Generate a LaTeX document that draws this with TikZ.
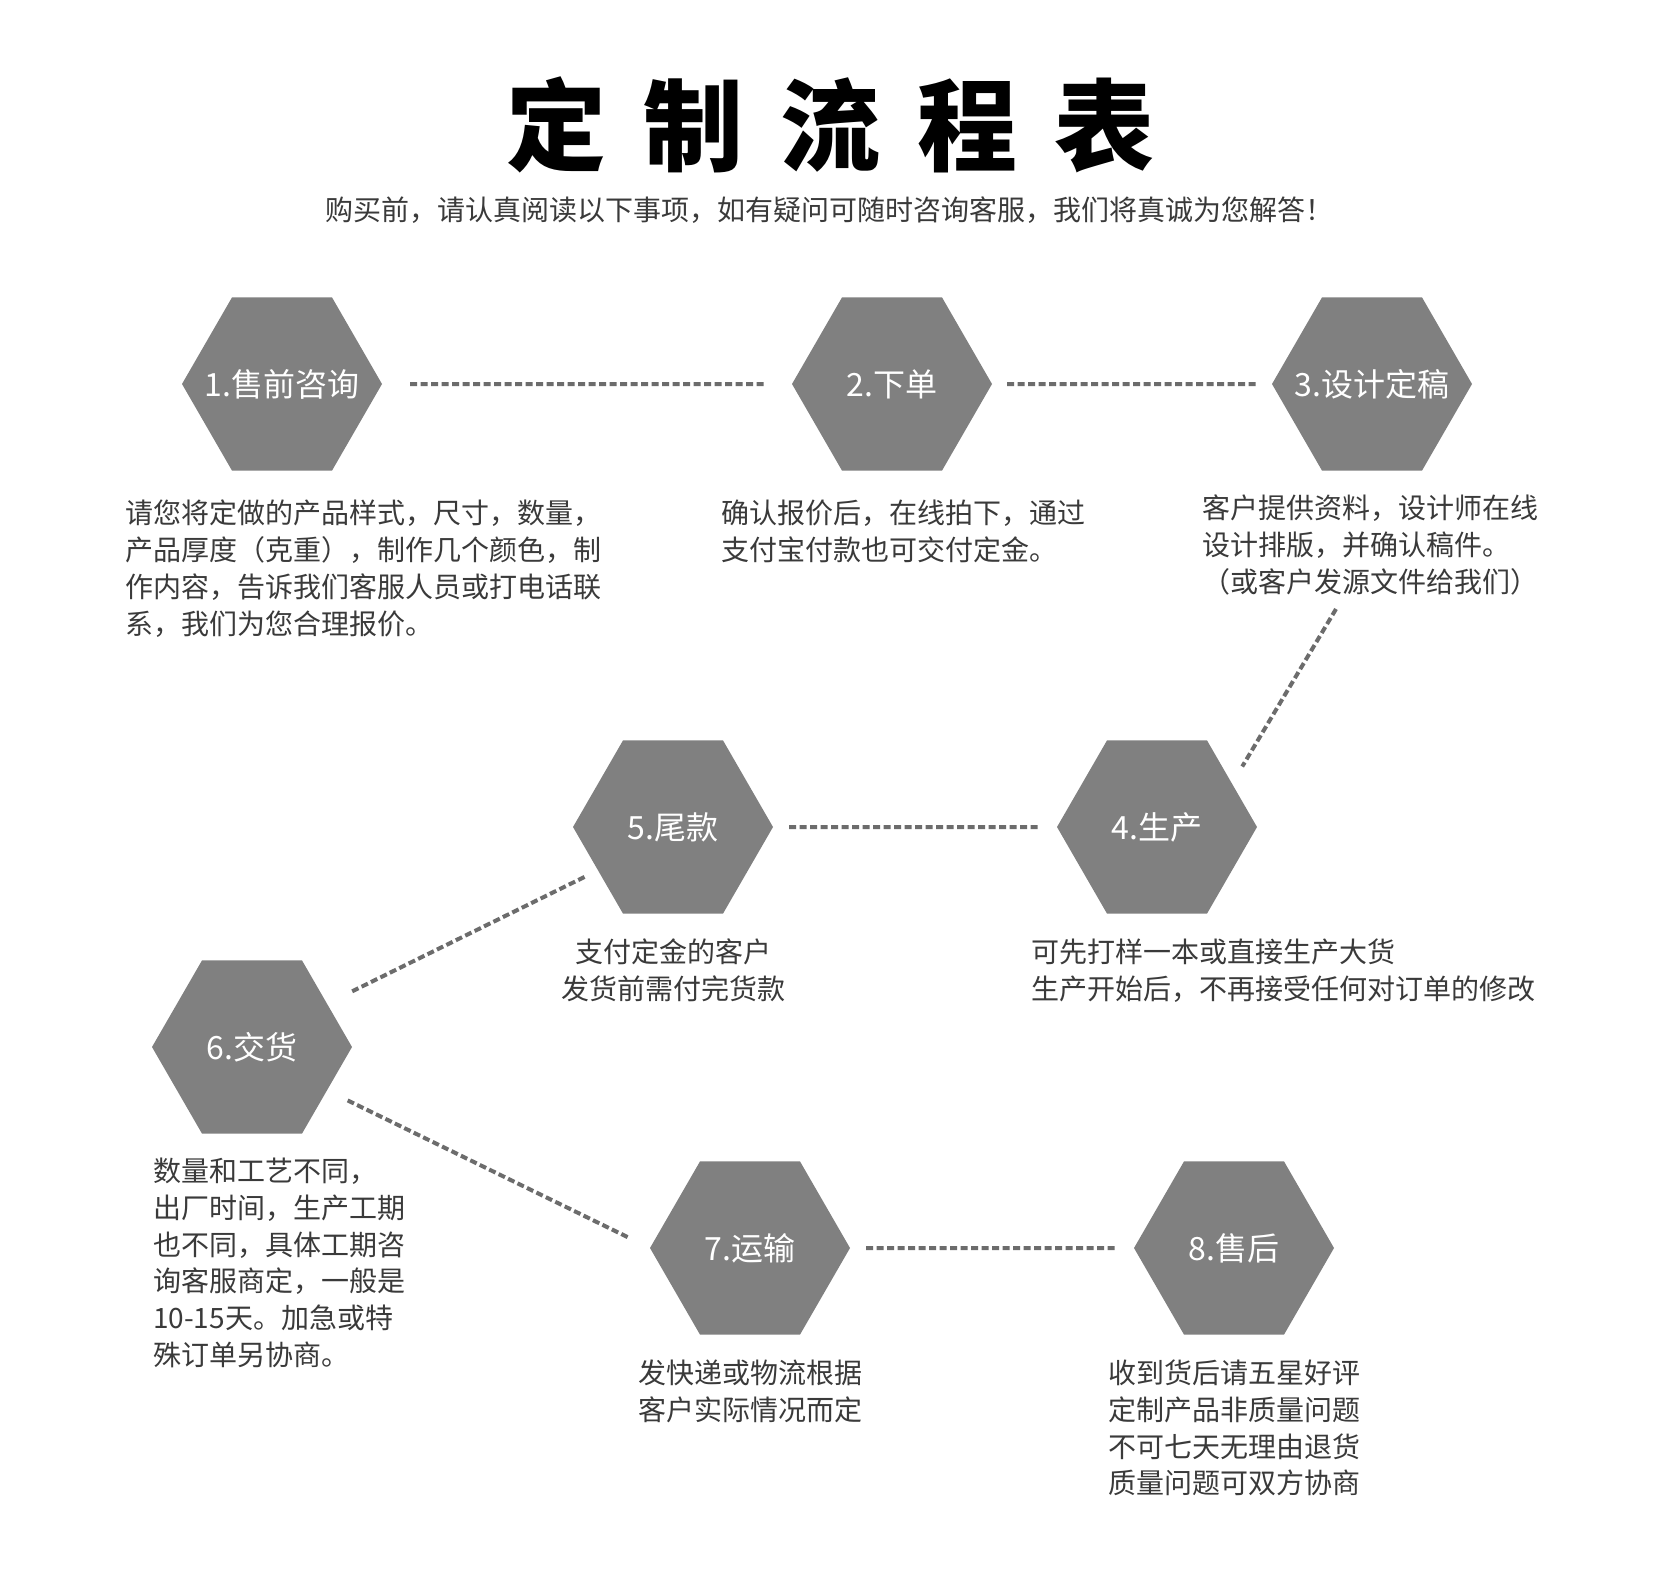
\documentclass[tikz,border=0pt]{standalone}
\usepackage{fontspec}
\setmainfont{Noto Sans CJK SC}
\usetikzlibrary{shapes.geometric}
\definecolor{hexgray}{HTML}{808080}
\definecolor{dashgray}{HTML}{6C6C6C}
\definecolor{txtgray}{HTML}{3A3A3A}
\newcommand\bodysize{\fontsize{28}{36.7}\selectfont}
\newcommand\tsp{\hspace{37pt}}

\begin{document}
\begin{tikzpicture}[x=1pt,y=-1pt,
  hexa/.style={regular polygon,regular polygon sides=6,fill=hexgray,minimum size=200pt,
    inner sep=0pt,outer sep=0pt,text=white,font=\fontsize{32}{36}\selectfont},
  link/.style={dashgray,line width=4pt,dash pattern=on 7pt off 3.5pt},
  note/.style={text=txtgray,font=\bodysize,inner sep=0pt}]
\useasboundingbox[fill=white] (0,0) rectangle (1653,1574);
% title
\node[font=\fontsize{100}{100}\selectfont\bfseries,text=black] (title) at (830,125)
  {定\tsp 制\tsp 流\tsp 程\tsp 表};
\node[font=\fontsize{28}{30}\selectfont,text=txtgray] (sub) at (829,210)
  {购买前，请认真阅读以下事项，如有疑问可随时咨询客服，我们将真诚为您解答！};
% steps
\foreach\n/\x/\y/\t in {1/282/384/1.售前咨询, 2/892/384/2.下单, 3/1372/384/3.设计定稿,
  4/1157/827/4.生产, 5/673/827/5.尾款, 6/252/1047/6.交货, 7/750/1248/7.运输, 8/1234/1248/8.售后}
  \node[hexa] (h\n) at (\x,\y) {\makebox[0pt]{\t}};
% notes
\node[note,anchor=north west,align=left] (t1) at (125,500)
  {请您将定做的产品样式，尺寸，数量，\\产品厚度（克重），制作几个颜色，制\\作内容，告诉我们客服人员或打电话联\\系，我们为您合理报价。};
\node[note,anchor=north west,align=left] (t2) at (721,500)
  {确认报价后，在线拍下，通过\\支付宝付款也可交付定金。};
\node[note,anchor=north west,align=left] (t3) at (1202,495)
  {客户提供资料，设计师在线\\设计排版，并确认稿件。\\（或客户发源文件给我们）};
\node[note,anchor=north west,align=left] (t4) at (1031,939)
  {可先打样一本或直接生产大货\\生产开始后，不再接受任何对订单的修改};
\node[note,anchor=north,align=center] (t5) at (673,939)
  {支付定金的客户\\发货前需付完货款};
\node[note,anchor=north west,align=left] (t6) at (153,1158)
  {数量和工艺不同，\\出厂时间，生产工期\\也不同，具体工期咨\\询客服商定，一般是\\10-15天。加急或特\\殊订单另协商。};
\node[note,anchor=north,align=center] (t7) at (750,1360)
  {发快递或物流根据\\客户实际情况而定};
\node[note,anchor=north,align=center] (t8) at (1234,1360)
  {收到货后请五星好评\\定制产品非质量问题\\不可七天无理由退货\\质量问题可双方协商};
% dashed links
\coordinate (c3) at (1336,609);
\draw[link,shorten <=28pt,shorten >=28pt] (h1) -- (h2);
\draw[link,shorten <=15pt,shorten >=14pt] (h2) -- (h3);
\draw[link,shorten >=20pt] (c3) -- (h4.30);
\draw[link,shorten <=16pt,shorten >=16pt] (h5) -- (h4);
\draw[link,shorten <=15pt,shorten >=25pt] (h5.210) -- (h6.30);
\draw[link,shorten <=23pt,shorten >=23pt] (h6.-30) -- (h7.180);
\draw[link,shorten <=16pt,shorten >=16pt] (h7) -- (h8);
\end{tikzpicture}
\end{document}
